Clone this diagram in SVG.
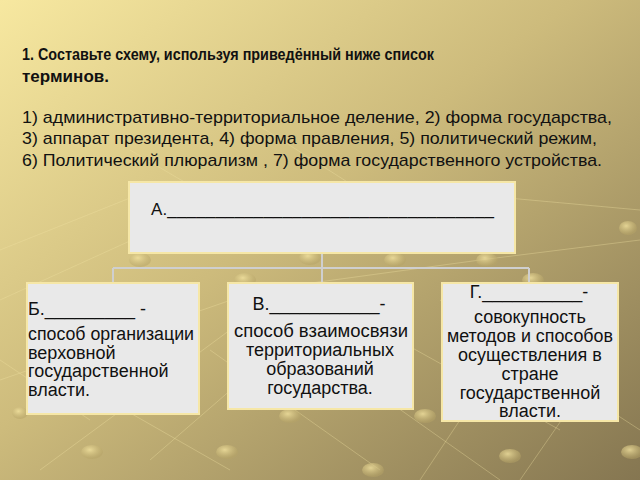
<svg xmlns="http://www.w3.org/2000/svg" width="640" height="480" viewBox="0 0 640 480">
<defs>
<linearGradient id="bg" x1="0" y1="0" x2="1" y2="1">
<stop offset="0" stop-color="#f7e8a0"/>
<stop offset="0.45" stop-color="#cdbb7c"/>
<stop offset="1" stop-color="#857651"/>
</linearGradient>
<radialGradient id="dot" cx="0.4" cy="0.35" r="0.6">
<stop offset="0" stop-color="#f3e3a0" stop-opacity="0.8"/>
<stop offset="1" stop-color="#b6a467" stop-opacity="0.5"/>
</radialGradient>
<style>
.title{font-family:"Liberation Sans",Arial,sans-serif;font-weight:bold;font-size:17px;fill:#111}
.list{font-family:"Liberation Sans",Arial,sans-serif;font-size:17px;fill:#111}
.box{fill:#e9e9e9;stroke:#f6e7a6;stroke-width:2}
.t{font-family:"Liberation Sans",Arial,sans-serif;font-size:18px;fill:#111}
.c{text-anchor:middle}
.conn{fill:none;stroke:#cfcfcf;stroke-width:2}
.deco{fill:none;stroke:#f2e2a2;stroke-opacity:0.35;stroke-width:1}
</style>
</defs>
<rect width="640" height="480" fill="url(#bg)"/>
<g id="background-pattern">
<path class="deco" d="M0 300 L220 200 L420 190 L640 210 M0 380 L260 290 L480 260 L640 240 M40 470 L230 330 M150 460 L300 330 M0 250 L150 190 M90 420 L0 360 M230 470 L90 390 M380 470 L210 350 M500 480 L330 360 M560 430 L380 330 M640 430 L440 300 M420 480 L520 330 M520 480 L610 350 M250 120 L360 190 M130 150 L300 250"/>
<g fill="url(#dot)">
<ellipse cx="92" cy="452" rx="11" ry="7"/><ellipse cx="227" cy="452" rx="11" ry="7"/>
<ellipse cx="373" cy="470" rx="11" ry="7"/><ellipse cx="510" cy="456" rx="11" ry="7"/>
<ellipse cx="632" cy="452" rx="11" ry="7"/><ellipse cx="290" cy="416" rx="11" ry="7"/>
<ellipse cx="425" cy="416" rx="11" ry="7"/><ellipse cx="20" cy="413" rx="8" ry="6"/>
<ellipse cx="310" cy="258" rx="11" ry="7"/><ellipse cx="395" cy="260" rx="11" ry="7"/>
<ellipse cx="487" cy="260" rx="11" ry="7"/><ellipse cx="140" cy="260" rx="11" ry="7"/>
<ellipse cx="628" cy="228" rx="9" ry="7"/><ellipse cx="245" cy="280" rx="11" ry="7"/>
<ellipse cx="533" cy="280" rx="11" ry="7"/>
</g>
</g>
<g id="task-text">
<text class="title" x="22" y="60" textLength="412" lengthAdjust="spacingAndGlyphs">1. Составьте схему, используя приведённый ниже список</text>
<text class="title" x="22" y="82" textLength="87" lengthAdjust="spacingAndGlyphs">терминов.</text>
<text class="list" x="22" y="123" textLength="590" lengthAdjust="spacingAndGlyphs">1)  административно-территориальное деление, 2) форма государства,</text>
<text class="list" x="22" y="144" textLength="575" lengthAdjust="spacingAndGlyphs">3) аппарат президента, 4) форма правления, 5) политический режим,</text>
<text class="list" x="22" y="166" textLength="580" lengthAdjust="spacingAndGlyphs">6) Политический плюрализм , 7) форма государственного устройства.</text>
</g>
<g id="connectors">
<path class="conn" d="M322 253 V268 M113 268 H529 M113 268 V283 M322 268 V283 M529 268 V283"/>
</g>
<g id="node-a">
<rect class="box" x="129" y="182" width="386" height="71"/>
<text class="t" x="151" y="215" style="font-size:17px" textLength="343" lengthAdjust="spacing">А.__________________________________</text>
</g>
<g id="node-b">
<rect class="box" x="27" y="283" width="172" height="131"/>
<text class="t" x="28" y="315">Б._________ -</text>
<text class="t" x="28" y="340" textLength="166" lengthAdjust="spacingAndGlyphs">способ организации</text>
<text class="t" x="28" y="358.5">верховной</text>
<text class="t" x="28" y="377">государственной</text>
<text class="t" x="28" y="396">власти.</text>
</g>
<g id="node-v">
<rect class="box" x="228" y="283" width="185" height="126"/>
<text class="t c" x="319" y="310">В.___________-</text>
<text class="t c" x="321" y="337" textLength="174" lengthAdjust="spacingAndGlyphs">способ взаимосвязи</text>
<text class="t c" x="320" y="356">территориальных</text>
<text class="t c" x="320" y="375">образований</text>
<text class="t c" x="320" y="394">государства.</text>
</g>
<g id="node-g">
<rect class="box" x="442" y="283" width="176" height="138"/>
<text class="t c" x="529" y="298">Г.__________-</text>
<text class="t c" x="530" y="323">совокупность</text>
<text class="t c" x="530" y="342" textLength="166" lengthAdjust="spacingAndGlyphs">методов и способов</text>
<text class="t c" x="530" y="361">осуществления в</text>
<text class="t c" x="530" y="379.5">стране</text>
<text class="t c" x="530" y="398.5">государственной</text>
<text class="t c" x="530" y="417">власти.</text>
</g>
</svg>
